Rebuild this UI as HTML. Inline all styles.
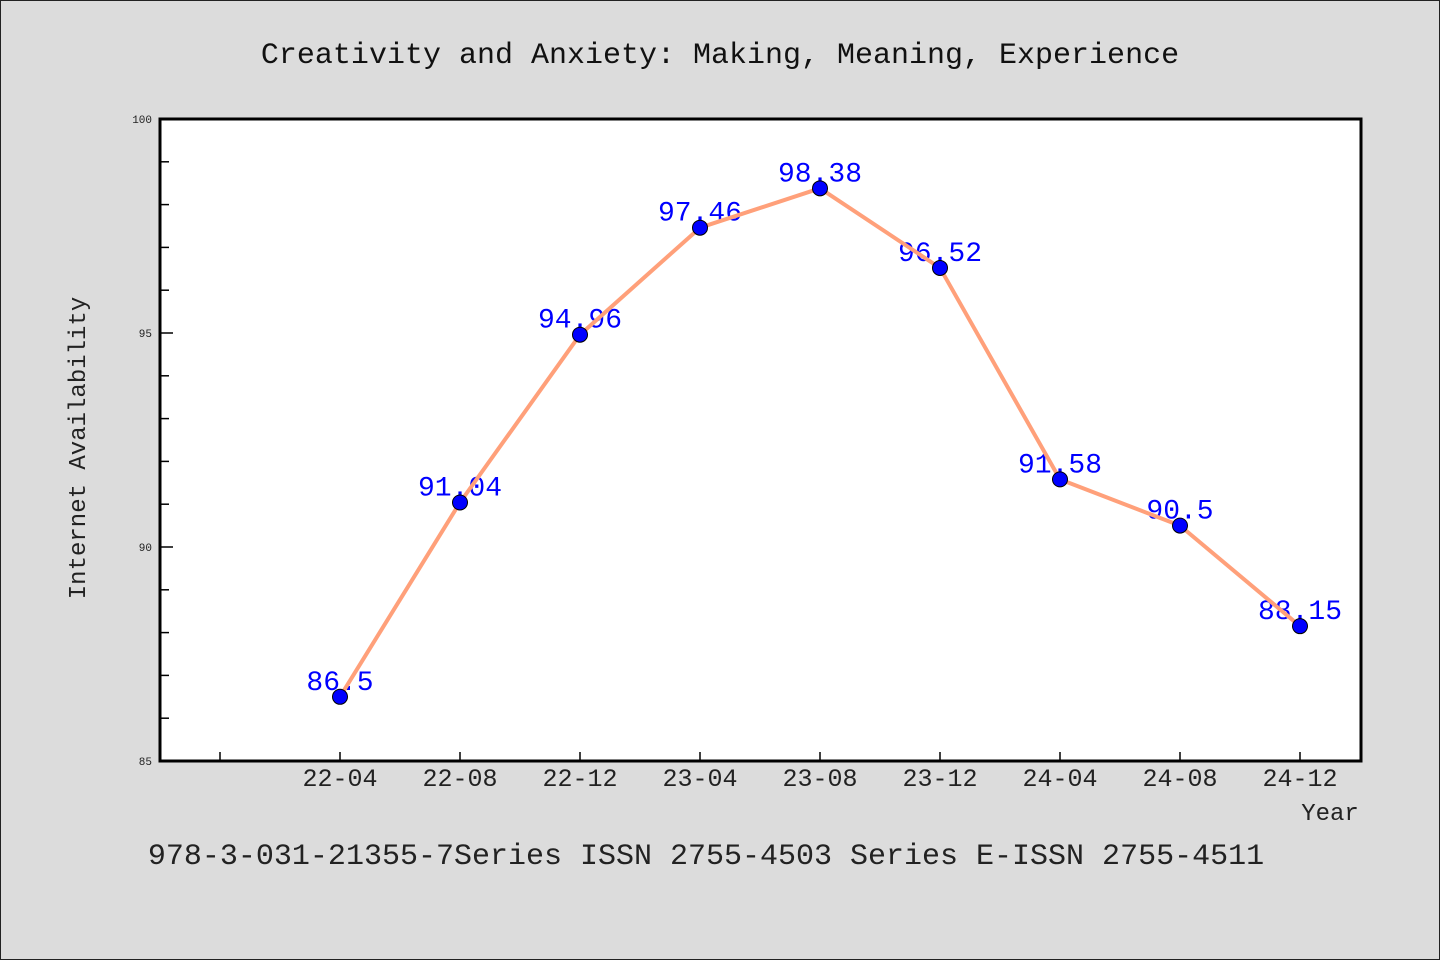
<!DOCTYPE html>
<html><head><meta charset="utf-8"><style>
body{margin:0;background:#dcdcdc;}
svg{display:block;font-family:"Liberation Mono","WenQuanYi Zen Hei",monospace;}
</style></head><body>
<svg width="1440" height="960" viewBox="0 0 1440 960" xmlns="http://www.w3.org/2000/svg">
<rect x="0.5" y="0.5" width="1439" height="959" fill="#dcdcdc" stroke="#222" stroke-width="1"/>
<text x="720" y="63" font-size="30" text-anchor="middle" fill="#111">Creativity and Anxiety: Making, Meaning, Experience</text>
<rect x="160" y="119" width="1201" height="642" fill="#fff"/>
<g id="ticks"></g>
<g id="labels"></g>
<g id="series"></g>
<rect x="160" y="119" width="1201" height="642" fill="none" stroke="#000" stroke-width="3"/>
<text transform="translate(85,448) rotate(-90)" font-size="24" text-anchor="middle" fill="#222">Internet Availability</text>
<text x="1330" y="820" font-size="24" text-anchor="middle" fill="#222">Year</text>
<text x="706" y="864" font-size="30" text-anchor="middle" fill="#222">978-3-031-21355-7Series ISSN 2755-4503 Series E-ISSN 2755-4511</text>
</svg>
<script>
const categories=["22-04","22-08","22-12","23-04","23-08","23-12","24-04","24-08","24-12"];
const values=[86.5,91.04,94.96,97.46,98.38,96.52,91.58,90.5,88.15];
const valueLabels=["86.5","91.04","94.96","97.46","98.38","96.52","91.58","90.5","88.15"];
const yTicks=[85,90,95,100];
const NS="http://www.w3.org/2000/svg";
const x=i=>160+(i+1.5)*120;
const y=v=>761-(v-85)*(642/15);
function mk(t,a,p){const e=document.createElementNS(NS,t);for(const k in a)e.setAttribute(k,a[k]);p.appendChild(e);return e;}
const tg=document.getElementById('ticks'),lg=document.getElementById('labels'),sg=document.getElementById('series');
for(let v=85;v<=100;v++){const l=mk('line',{x1:160,x2:v%5?169:173,y1:y(v),y2:y(v),stroke:'#000','stroke-width':1.5},tg);

}
yTicks.forEach(v=>{const t=mk('text',{x:152,y:y(v)+4,'font-size':11,'text-anchor':'end',fill:'#222'},tg);t.textContent=v;

});
for(let i=-1;i<categories.length;i++){const l=mk('line',{x1:x(i),x2:x(i),y1:761,y2:752,stroke:'#000','stroke-width':1.5},tg);

}
categories.forEach((c,i)=>{const t=mk('text',{x:x(i),y:786,'font-size':25,'text-anchor':'middle',fill:'#222'},tg);t.textContent=c;

});
values.forEach((v,i)=>{const t=mk('text',{x:x(i),y:y(v)-7,'font-size':28,'text-anchor':'middle',fill:'#0000ff'},lg);t.textContent=valueLabels[i];

});
const pl=mk('polyline',{points:values.map((v,i)=>x(i)+','+y(v)).join(' '),fill:'none',stroke:'#ffa07a','stroke-width':4,'stroke-linejoin':'round'},sg);


values.forEach((v,i)=>{const c=mk('circle',{cx:x(i),cy:y(v),r:7.5,fill:'#0000ff',stroke:'#000','stroke-width':1},sg);

});
</script>
</body></html>
